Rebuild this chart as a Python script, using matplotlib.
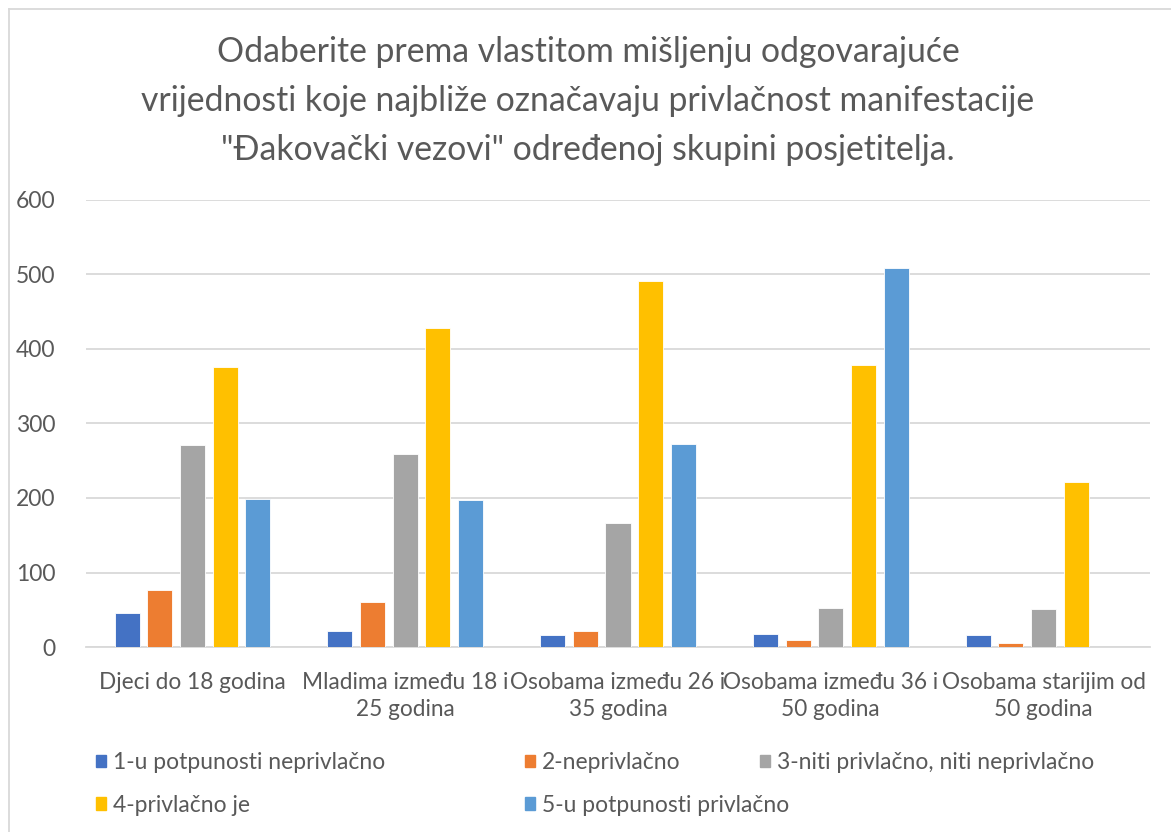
import numpy as np
import matplotlib
matplotlib.use('Agg')
import matplotlib.pyplot as plt
from matplotlib.patches import Patch
from matplotlib.lines import Line2D

plt.rcParams['font.family'] = ['Lato', 'DejaVu Sans']

# podaci očitani s grafikona
kategorije = ['Djeci do 18 godina', 'Mladima između 18 i\n25 godina',
              'Osobama između 26 i\n35 godina', 'Osobama između 36 i\n50 godina',
              'Osobama starijim od\n50 godina']
serije = ['1-u potpunosti neprivlačno', '2-neprivlačno',
          '3-niti privlačno, niti neprivlačno', '4-privlačno je',
          '5-u potpunosti privlačno']
ocjena1 = [45, 22, 16, 17, 16]
ocjena2 = [77, 60, 22, 10, 5]
ocjena3 = [271, 259, 167, 53, 51]
ocjena4 = [376, 428, 491, 379, 222]
ocjena5 = [199, 197, 273, 509, 0]
boje = ['#4472C4', '#ED7D31', '#A5A5A5', '#FFC000', '#5B9BD5']
naslov = ['Odaberite prema vlastitom mišljenju odgovarajuće',
          'vrijednosti koje najbliže označavaju privlačnost manifestacije',
          '"Đakovački vezovi" određenoj skupini posjetitelja.']

vrijednosti = [ocjena1, ocjena2, ocjena3, ocjena4, ocjena5]
tekst = '#595959'

fig = plt.figure(figsize=(11.71, 8.32), dpi=100)
ax = fig.add_axes([86/1171, 1 - 647/832, (1150 - 86)/1171, (647 - 200)/832])

x = np.arange(len(kategorije))
korak = 0.1535
sirina = 0.1175
for i, (v, b) in enumerate(zip(vrijednosti, boje)):
    ax.bar(x + (i - 2) * korak, v, sirina, color=b, edgecolor='white',
           linewidth=0.6, zorder=3)

ax.set_xlim(-0.5, 4.5)
ax.set_ylim(0, 600)
ax.set_yticks(range(0, 601, 100))
ax.set_xticks(x)
ax.set_xticklabels(kategorije, fontsize=16.3, color=tekst, linespacing=1.35)
ax.tick_params(axis='y', labelsize=16.5, labelcolor=tekst, length=0, pad=22)
ax.tick_params(axis='x', length=0, pad=18)
ax.grid(axis='y', color='#D9D9D9', linewidth=1.3, zorder=0)
for s in ['top', 'right', 'left']:
    ax.spines[s].set_visible(False)
ax.spines['bottom'].set_color('#D9D9D9')
ax.spines['bottom'].set_linewidth(1.3)

for red, yb in zip(naslov, [62, 111, 160]):
    fig.text(588/1171, 1 - yb/832, red, ha='center', va='baseline',
             fontsize=24.3, color=tekst)

# legenda u tri stupca
rucke = [Patch(color=b) for b in boje]
stupci = [([0, 3], 96), ([1, 4], 525), ([2], 760)]
for idx, px in stupci:
    leg = fig.legend([rucke[i] for i in idx], [serije[i] for i in idx],
                     loc='upper left', bbox_to_anchor=(px/1171, 1 - 752/832),
                     frameon=False, fontsize=16.5, handlelength=0.45,
                     handleheight=0.45, handletextpad=0.3, labelspacing=0.95,
                     borderpad=0, borderaxespad=0)
    for t in leg.get_texts():
        t.set_color(tekst)

# okvir grafikona
fig.add_artist(Line2D([9/1171, 9/1171], [0, 1 - 9/832], color='#D9D9D9',
                      linewidth=1.3, transform=fig.transFigure))
fig.add_artist(Line2D([9/1171, 1], [1 - 9/832, 1 - 9/832], color='#D9D9D9',
                      linewidth=1.3, transform=fig.transFigure))

plt.savefig('out.png', dpi=100)
